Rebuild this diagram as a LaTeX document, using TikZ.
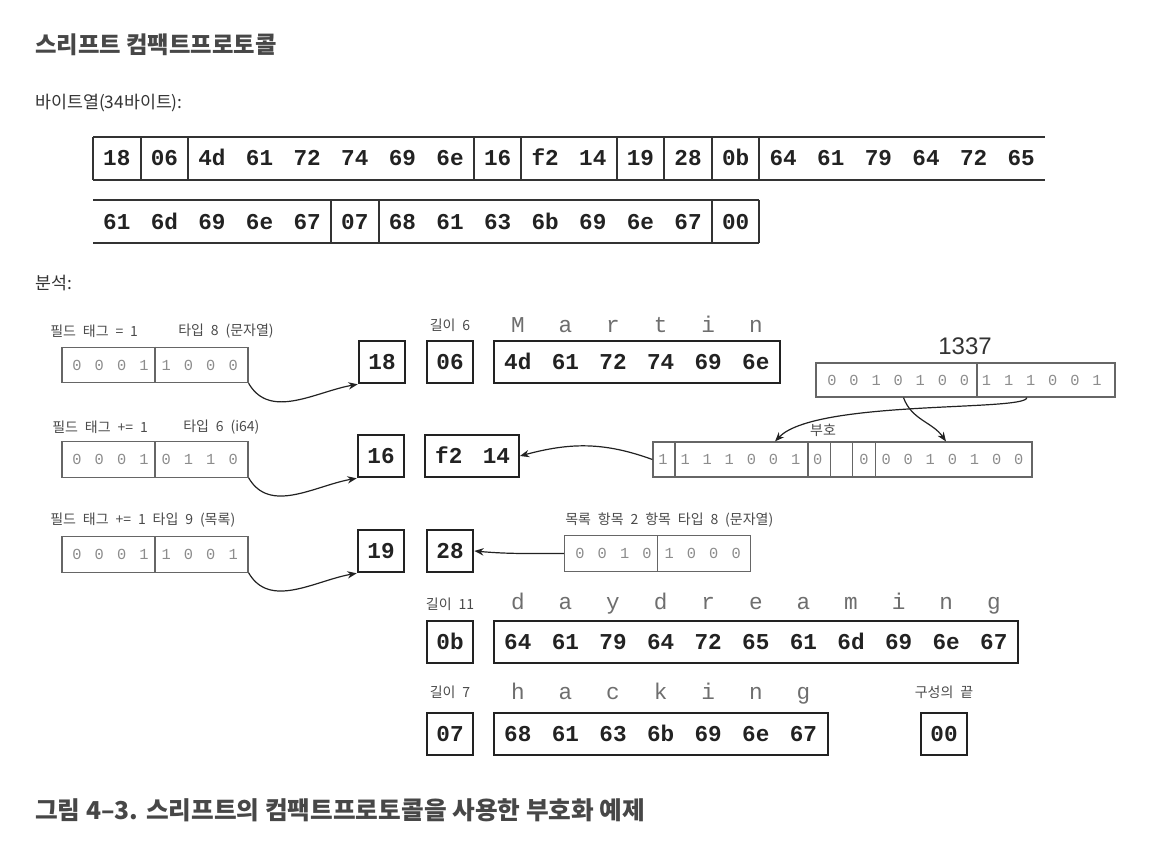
\documentclass[tikz,border=0pt]{standalone}
\usepackage{fontspec}
\setmainfont{Noto Sans CJK KR}
\newfontfamily\hexfont{Liberation Mono}
\newfontfamily\numfont{Liberation Sans}
\newfontfamily\labfont[WordSpace=2.2]{Noto Sans CJK KR}
\usetikzlibrary{arrows.meta}

\definecolor{ink}{HTML}{222222}
\definecolor{rulegray}{HTML}{333333}
\definecolor{labgray}{HTML}{4A4A4A}
\definecolor{boxgray}{HTML}{666666}
\definecolor{bitgray}{HTML}{8C8C8C}
\definecolor{chargray}{HTML}{6E6E6E}

\begin{document}
\begin{tikzpicture}[x=0.75pt,y=0.75pt,
    hex/.style={font=\hexfont\bfseries\fontsize{17}{17}\selectfont,text=ink,inner sep=0pt,text height=11pt,text depth=0pt},
    hexbox/.style={hex,draw=ink,line width=1.4pt,minimum width=35pt,minimum height=32pt},
    chr/.style={font=\hexfont\fontsize{17}{17}\selectfont,text=chargray,inner sep=0pt,anchor=base},
    bitbox/.style={draw=boxgray,line width=0.9pt,minimum width=139.5pt,minimum height=26.5pt,inner sep=0pt},
    bitline/.style={draw=boxgray,line width=0.9pt},
    bit/.style={font=\hexfont\fontsize{11.5}{11.5}\selectfont,text=bitgray,inner sep=0pt},
    lab/.style={font=\labfont\fontsize{10.5}{10.5}\selectfont,text=labgray,inner sep=0pt,anchor=west},
    head/.style={text=rulegray,inner sep=0pt,anchor=west},
    row/.style={draw=rulegray,line width=1.5pt},
    arr/.style={draw=ink,line width=0.9pt,-{Stealth[length=7pt,width=5.5pt]}}]

    \useasboundingbox (0,0) rectangle (1154,-850);

    \node[head,font=\bfseries\fontsize{17.5}{17.5}\selectfont,text=rulegray!90] (title) at (35,-45) {스리프트 컴팩트프로토콜};
    \node[head,font=\fontsize{13}{13}\selectfont] (seq) at (35,-103) {바이트열(34바이트):};

    % byte sequence, first row
    \foreach \t [count=\i from 0] in {18,06,4d,61,72,74,69,6e,16,f2,14,19,28,0b,64,61,79,64,72,65}
        \node[hex] (top-\i) at (116.8+47.6*\i,-158) {\t};
    \draw[row] (93,-137) -- (1045,-137) (93,-180) -- (1045,-180) (93,-137) -- (93,-180);
    \foreach \k in {1,2,8,9,11,12,13,14}
        \draw[row] (93+47.6*\k,-137) -- (93+47.6*\k,-180);

    % second row
    \foreach \t [count=\i from 0] in {61,6d,69,6e,67,07,68,61,63,6b,69,6e,67,00}
        \node[hex] (bot-\i) at (116.8+47.6*\i,-222) {\t};
    \draw[row] (93,-200) -- (759.4,-200) (93,-243) -- (759.4,-243);
    \foreach \k in {5,6,13,14}
        \draw[row] (93+47.6*\k,-200) -- (93+47.6*\k,-243);

    \node[head,font=\fontsize{13}{13}\selectfont] (ana) at (35,-283) {분석:};

    % field 1: string
    \node[lab] (tag1) at (50,-331) {필드 태그 = 1};
    \node[lab] (type1) at (178,-331) {타입 8 (문자열)};
    \node[bitbox] (bits1) at (155,-365) {};
    \draw[bitline] (bits1.north) -- (bits1.south);
    \foreach \b [count=\i from 0] in {0,0,0,1,1,0,0,0}
        \node[bit] (bit1-\i) at (77+22.3*\i,-365) {\b};
    \node[hexbox] (b18) at (382,-362) {18};
    \node[lab,anchor=center] (len6) at (450,-325) {길이 6};
    \node[hexbox] (b06) at (450,-362) {06};
    \node[hexbox,minimum width=214.5pt] (martin) at (637,-362) {};
    \foreach \t/\c [count=\i from 0] in {4d/M,61/a,72/r,74/t,69/i,6e/n} {
        \node[hex] (m-\i) at (517.8+47.6*\i,-362) {\t};
        \node[chr] (mc-\i) at (517.8+47.6*\i,-332) {\c};
    }
    \draw[arr] (bits1.south east) to[out=-60,in=190] (b18.south west);

    % field 2: i64, zigzag
    \node[lab] (tag2) at (52,-427) {필드 태그 += 1};
    \node[lab] (type2) at (183,-427) {타입 6 (i64)};
    \node[bitbox] (bits2) at (155,-459.5) {};
    \draw[bitline] (bits2.north) -- (bits2.south);
    \foreach \b [count=\i from 0] in {0,0,0,1,0,1,1,0}
        \node[bit] (bit2-\i) at (77+22.3*\i,-459.5) {\b};
    \node[hexbox] (b16) at (381,-456) {16};
    \node[hexbox,minimum width=70.5pt] (f214) at (472,-456) {};
    \foreach \t [count=\i from 0] in {f2,14}
        \node[hex] (f-\i) at (448.8+47.6*\i,-456) {\t};

    \node[font=\numfont\fontsize{18}{18}\selectfont,text=rulegray,inner sep=0pt] (num) at (965,-346) {1337};
    \node[bitbox,minimum width=224.25pt,minimum height=25.5pt] (n1337) at (965.5,-380) {};
    \draw[bitline] (977,-363) -- (977,-397);
    \foreach \b [count=\i from 0] in {0,0,1,0,1,0,0,1,1,1,0,0,1}
        \node[bit] (bit13-\i) at (832+22.08*\i,-380) {\b};

    \node[bitbox,minimum width=284.25pt,minimum height=26.25pt] (zz) at (842.5,-459.5) {};
    \foreach \x in {675,808,830.5,852.5,875.5}
        \draw[bitline] (\x,-442) -- (\x,-477);
    \foreach \b [count=\i from 0] in {1,1,1,1,0,0,1,0}
        \node[bit] (zl-\i) at (663+22.1*\i,-459.5) {\b};
    \foreach \b [count=\i from 0] in {0,0,0,1,0,1,0,0}
        \node[bit] (zr-\i) at (864+22.1*\i,-459.5) {\b};
    \node[lab,anchor=center] (sign) at (823,-430) {부호};

    \draw[arr] ([xshift=-46.5pt]n1337.south) to[out=-70,in=125] ([xshift=77.6pt]zz.north);
    \draw[arr] ([xshift=46pt]n1337.south) .. controls +(0,-14) and +(40,42) .. ([xshift=-50.6pt]zz.north);
    \draw[arr] (zz.west) to[out=160,in=15] (f214.east);
    \draw[arr] (bits2.south east) to[out=-60,in=190] (b16.south west);

    % field 3: list
    \node[lab] (tag3) at (50,-520) {필드 태그 += 1 타입 9 (목록)};
    \node[bitbox] (bits3) at (155,-554.5) {};
    \draw[bitline] (bits3.north) -- (bits3.south);
    \foreach \b [count=\i from 0] in {0,0,0,1,1,0,0,1}
        \node[bit] (bit3-\i) at (77+22.3*\i,-554.5) {\b};
    \node[hexbox] (b19) at (381,-551) {19};
    \node[hexbox] (b28) at (450,-551) {28};
    \node[lab] (elem) at (565,-520) {목록 항목 2 항목 타입 8 (문자열)};
    \node[bitbox] (bits4) at (657.5,-553.5) {};
    \draw[bitline] (bits4.north) -- (bits4.south);
    \foreach \b [count=\i from 0] in {0,0,1,0,1,0,0,0}
        \node[bit] (bit4-\i) at (580+22.3*\i,-553.5) {\b};
    \draw[arr] (bits3.south east) to[out=-60,in=190] (b19.south west);
    \draw[arr] (bits4.west) to[out=180,in=-5] (b28.east);

    % list items
    \node[lab,anchor=center] (len11) at (450,-604) {길이 11};
    \node[hexbox] (b0b) at (450,-642) {0b};
    \node[hexbox,minimum width=393pt] (dream) at (756,-642) {};
    \foreach \t/\c [count=\i from 0] in {64/d,61/a,79/y,64/d,72/r,65/e,61/a,6d/m,69/i,6e/n,67/g} {
        \node[hex] (d-\i) at (517.8+47.6*\i,-642) {\t};
        \node[chr] (dc-\i) at (517.8+47.6*\i,-609) {\c};
    }

    \node[lab,anchor=center] (len7) at (450,-692) {길이 7};
    \node[hexbox] (b07) at (450,-734) {07};
    \node[hexbox,minimum width=250.5pt] (hack) at (661,-734) {};
    \foreach \t/\c [count=\i from 0] in {68/h,61/a,63/c,6b/k,69/i,6e/n,67/g} {
        \node[hex] (h-\i) at (517.8+47.6*\i,-734) {\t};
        \node[chr] (hc-\i) at (517.8+47.6*\i,-699) {\c};
    }
    \node[lab,anchor=center] (stop) at (944,-692) {구성의 끝};
    \node[hexbox] (b00) at (944,-734) {00};

    \node[head,font=\bfseries\fontsize{18.5}{18.5}\selectfont,text=rulegray!90] (caption) at (35,-810) {그림 4–3. 스리프트의 컴팩트프로토콜을 사용한 부호화 예제};
\end{tikzpicture}
\end{document}
